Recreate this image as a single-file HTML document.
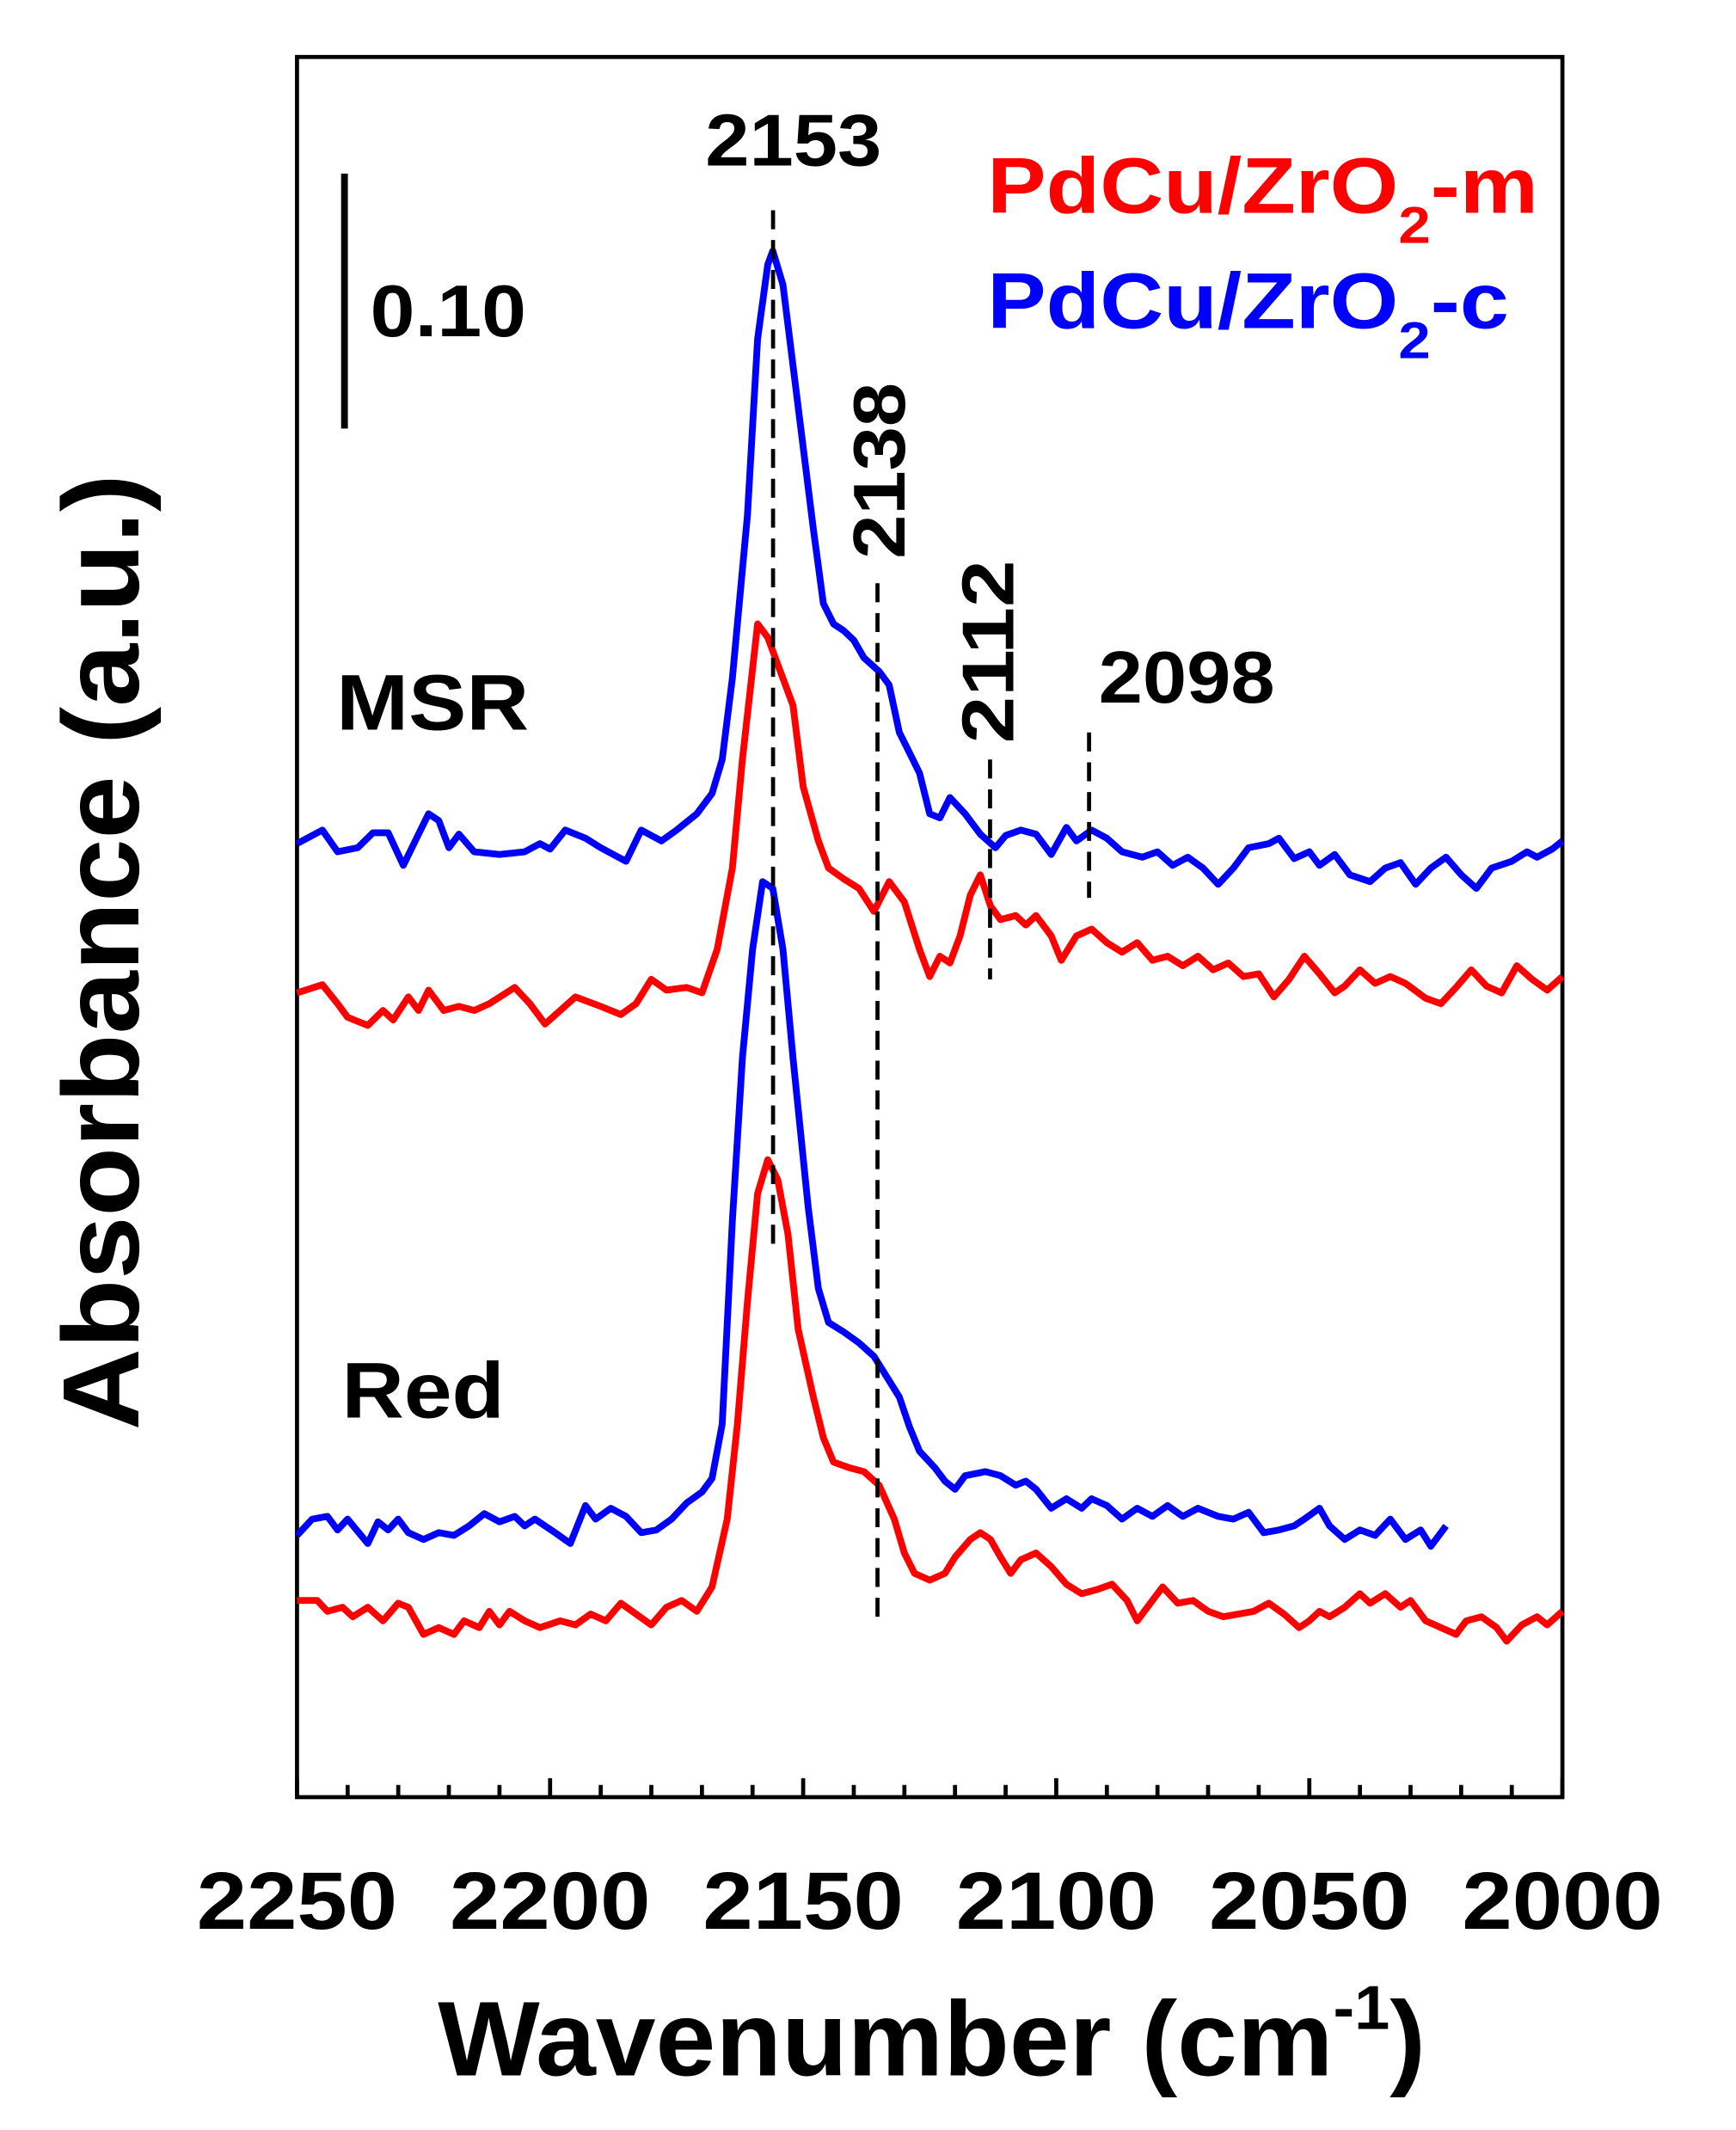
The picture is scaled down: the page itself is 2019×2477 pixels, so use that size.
<!DOCTYPE html>
<html><head><meta charset="utf-8"><style>
html,body{margin:0;padding:0;background:#fff}
svg{display:block}
text{font-family:"Liberation Sans",Arial,sans-serif;font-weight:bold}
</style></head><body>
<svg id="chart" width="2019" height="2477" viewBox="0 0 1280 1570.4" preserveAspectRatio="none" xmlns="http://www.w3.org/2000/svg">
<rect x="219" y="42" width="933" height="1283" fill="none" stroke="#000" stroke-width="3"/>
<g id="ticks"></g>
<g id="series"></g>
<g stroke="#000" stroke-width="3" stroke-dasharray="14,8" fill="none">
<line x1="570" y1="155" x2="570" y2="925"/>
<line x1="647" y1="430" x2="647" y2="1195"/>
<line x1="730" y1="560" x2="730" y2="722"/>
<line x1="803" y1="540" x2="803" y2="662"/>
</g>
<text x="520" y="122" font-size="54" textLength="130" lengthAdjust="spacingAndGlyphs">2153</text>
<text transform="translate(667,412) rotate(-90)" font-size="54" textLength="130" lengthAdjust="spacingAndGlyphs">2138</text>
<text transform="translate(747,548) rotate(-90)" font-size="54" textLength="135" lengthAdjust="spacingAndGlyphs">2112</text>
<text x="810" y="518" font-size="54" textLength="130" lengthAdjust="spacingAndGlyphs">2098</text>
<line x1="254" y1="128" x2="254" y2="316" stroke="#000" stroke-width="5"/>
<text x="273" y="248" font-size="54" textLength="115" lengthAdjust="spacingAndGlyphs">0.10</text>
<text x="248" y="538" font-size="58" textLength="142" lengthAdjust="spacingAndGlyphs">MSR</text>
<text x="252" y="1045" font-size="58" textLength="120" lengthAdjust="spacingAndGlyphs">Red</text>
<g transform="translate(728,0) scale(1.12,1)">
<text x="0" y="157" font-size="58" fill="#ff0000">PdCu/ZrO<tspan font-size="38" dy="22">2</tspan><tspan dy="-22">-m</tspan></text>
<text x="0" y="242" font-size="58" fill="#0000ff">PdCu/ZrO<tspan font-size="38" dy="22">2</tspan><tspan dy="-22">-c</tspan></text>
</g>
<g id="ticklabels"></g>
<g transform="translate(687,0) scale(1.02,1)">
<text x="0" y="1530" font-size="78" text-anchor="middle">Wavenumber (cm<tspan font-size="46" dy="-34">-1</tspan><tspan dy="34">)</tspan></text>
</g>
<text transform="translate(102,702) rotate(-90)" font-size="80" text-anchor="middle" textLength="705" lengthAdjust="spacingAndGlyphs">Absorbance (a.u.)</text>
</svg>
<script>
const xTicks=[2250,2200,2150,2100,2050,2000];
const blueMsrW=[2250,2245,2242,2238,2235,2232,2229,2226,2224,2222,2220,2218,2215,2210,2205,2202,2200,2197,2193,2190,2185,2182,2178,2175,2171,2168,2166,2164,2161,2159,2157,2156,2154,2151,2148,2146,2144,2142,2140,2138,2135,2133,2131,2129,2127,2125,2123,2121,2118,2115,2112,2110,2107,2104,2101,2098,2096,2093,2090,2087,2083,2080,2077,2074,2071,2068,2065,2062,2058,2056,2053,2050,2048,2045,2042,2038,2035,2032,2029,2026,2023,2020,2017,2014,2010,2007,2005,2002,2000];
const blueMsrV=[703,713,697,700,711,711,687,710,725,720,700,710,697,695,697,703,699,713,707,700,690,713,705,713,725,740,765,825,945,1075,1130,1140,1115,1025,935,880,865,860,853,840,830,820,785,770,755,725,722,737,725,710,700,709,713,710,695,715,705,713,707,697,693,697,687,693,685,673,685,700,703,707,692,697,687,695,680,675,685,689,673,685,693,680,670,685,690,697,693,699,705];
const redMsrW=[2250,2245,2242,2240,2236,2233,2231,2228,2226,2224,2221,2218,2215,2212,2207,2204,2201,2198,2195,2190,2186,2183,2180,2177,2173,2170,2167,2164,2162,2159,2157,2155,2152,2150,2147,2145,2142,2139,2136,2133,2130,2127,2125,2123,2121,2119,2117,2115,2113,2111,2108,2106,2104,2101,2099,2096,2093,2090,2087,2084,2081,2078,2075,2072,2069,2066,2063,2060,2057,2054,2051,2048,2045,2043,2040,2037,2034,2031,2027,2024,2021,2018,2015,2012,2009,2006,2003,2000];
const redMsrV=[593,599,585,575,569,580,573,590,580,595,580,583,580,585,597,585,570,580,590,583,577,585,603,595,597,593,625,685,765,865,855,835,805,745,705,685,677,670,653,675,660,625,605,620,615,635,665,680,657,647,650,643,650,635,617,635,640,630,623,630,617,620,613,620,610,615,605,607,590,603,620,607,593,598,610,600,605,600,589,585,597,610,598,593,613,603,595,605];
const blueRedW=[2250,2247,2244,2242,2240,2236,2234,2232,2230,2228,2225,2222,2219,2216,2213,2210,2207,2205,2203,2199,2196,2193,2191,2188,2185,2182,2179,2176,2173,2170,2168,2166,2164,2162,2160,2158,2156,2154,2152,2149,2147,2145,2142,2139,2136,2134,2131,2129,2127,2124,2122,2120,2118,2114,2111,2108,2106,2104,2101,2098,2095,2093,2090,2087,2084,2081,2078,2075,2072,2068,2065,2062,2059,2056,2053,2051,2048,2046,2043,2040,2037,2034,2031,2028,2026,2023];
const blueRedV=[193,205,207,197,205,187,203,197,205,195,190,195,193,200,209,203,207,200,205,195,187,215,205,213,207,195,197,205,217,225,235,275,425,545,625,675,670,625,545,435,375,350,343,335,325,313,295,273,255,243,233,227,237,240,237,230,233,227,213,220,213,220,215,205,213,207,215,207,213,207,205,210,195,197,200,205,213,200,190,197,193,205,190,197,185,200];
const redRedW=[2250,2246,2244,2241,2239,2236,2233,2230,2228,2225,2222,2219,2217,2214,2212,2210,2208,2205,2202,2198,2195,2192,2189,2186,2183,2180,2177,2174,2171,2168,2165,2163,2161,2159,2157,2155,2153,2151,2148,2146,2144,2141,2138,2135,2132,2130,2128,2125,2122,2120,2117,2115,2113,2111,2109,2107,2104,2101,2098,2095,2092,2089,2086,2084,2081,2079,2076,2073,2070,2067,2064,2061,2058,2055,2052,2050,2048,2046,2043,2040,2038,2035,2032,2030,2027,2024,2021,2019,2016,2013,2011,2008,2005,2003,2000];
const redRedV=[145,145,137,140,133,140,130,143,140,120,125,120,130,125,137,127,137,130,125,130,127,135,130,143,135,127,140,145,137,155,205,275,365,445,470,455,415,345,295,265,247,243,240,230,205,180,165,160,165,177,190,195,190,177,165,175,180,170,157,150,153,157,145,130,145,155,143,145,137,133,135,137,143,135,125,130,137,133,140,150,143,150,140,145,130,125,120,130,133,125,115,127,133,127,137];

const L=219,R=1152,T=42,B=1325;
function xs(w){return L+(2250-w)/250*(R-L);}
function ys(v){return B-v/1283*(B-T);}
const NS="http://www.w3.org/2000/svg";
const sg=document.getElementById('series');
function draw(W,V,color,name){
  const p=document.createElementNS(NS,'polyline');
  p.setAttribute('points',W.map((w,i)=>xs(w).toFixed(1)+','+ys(V[i]).toFixed(1)).join(' '));
  p.setAttribute('fill','none');p.setAttribute('stroke',color);
  p.setAttribute('stroke-width','5');p.setAttribute('stroke-linejoin','round');
  
  
  sg.appendChild(p);
}
draw(redRedW,redRedV,'#ff0000','red-reduced-m');
draw(blueRedW,blueRedV,'#0000ff','blue-reduced-c');
draw(redMsrW,redMsrV,'#ff0000','red-msr-m');
draw(blueMsrW,blueMsrV,'#0000ff','blue-msr-c');
const tg=document.getElementById('ticks');
for(let w=2250;w>=2000;w-=10){
  const l=document.createElementNS(NS,'line');
  const major=(w%50===0);
  l.setAttribute('x1',xs(w));l.setAttribute('x2',xs(w));
  l.setAttribute('y1',B);l.setAttribute('y2',B-(major?14:9));
  l.setAttribute('stroke','#000');l.setAttribute('stroke-width','3');
  
  
  tg.appendChild(l);
}
const lg=document.getElementById('ticklabels');
xTicks.forEach(w=>{
  const t=document.createElementNS(NS,'text');
  t.setAttribute('x',xs(w)-74);t.setAttribute('y',1422);
  t.setAttribute('font-size','60');
  t.setAttribute('textLength','148');t.setAttribute('lengthAdjust','spacingAndGlyphs');
  t.textContent=w;
  
  
  lg.appendChild(t);
});
</script>
</body></html>
